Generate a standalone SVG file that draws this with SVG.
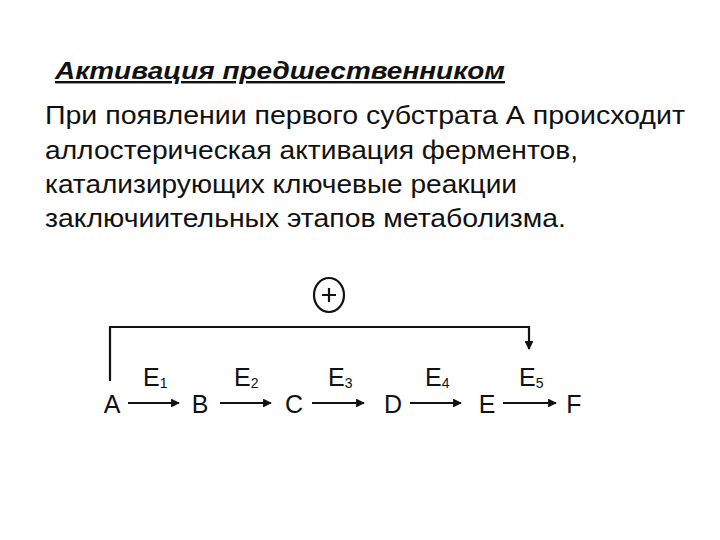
<svg xmlns="http://www.w3.org/2000/svg" width="720" height="540" viewBox="0 0 720 540">
<defs>
<style>
.t{font-family:"Liberation Sans",Arial,sans-serif;fill:#111;}
.body{font-size:26px;}
.head{font-size:24px;font-weight:bold;font-style:italic;text-decoration:underline;}
.lbl{font-size:25px;}
.sub{font-size:14px;}
.ln{stroke:#111;stroke-width:2.2;fill:none;}
</style>
<marker id="ah" viewBox="0 0 10 10" refX="9" refY="5" markerWidth="4" markerHeight="4" orient="auto" markerUnits="strokeWidth">
<path d="M0,0 L10,5 L0,10 z" fill="#111"/>
</marker>
</defs>
<rect width="720" height="540" fill="#fff"/>
<g id="title">
<text class="t head" x="55" y="79" textLength="450" lengthAdjust="spacingAndGlyphs">Активация предшественником</text>
</g>
<g id="description">
<text class="t body" x="45" y="124" textLength="640" lengthAdjust="spacingAndGlyphs">При появлении первого субстрата А происходит</text>
<text class="t body" x="45" y="159" textLength="533" lengthAdjust="spacingAndGlyphs">аллостерическая активация ферментов,</text>
<text class="t body" x="45" y="193" textLength="472" lengthAdjust="spacingAndGlyphs">катализирующих ключевые реакции</text>
<text class="t body" x="45" y="227" textLength="521" lengthAdjust="spacingAndGlyphs">заключиительных этапов метаболизма.</text>
</g>
<g id="plus">
<ellipse cx="329" cy="295" rx="15" ry="17" class="ln" stroke-width="2"/>
<path class="ln" d="M322,295 H336 M329,288 V302" stroke-width="2.4"/>
</g>
<g id="nodeA"><text class="t lbl" x="112" y="413" text-anchor="middle">A</text></g>
<g id="nodeB"><text class="t lbl" x="200" y="413" text-anchor="middle">B</text></g>
<g id="nodeC"><text class="t lbl" x="294" y="413" text-anchor="middle">C</text></g>
<g id="nodeD"><text class="t lbl" x="393" y="413" text-anchor="middle">D</text></g>
<g id="nodeE"><text class="t lbl" x="487" y="413" text-anchor="middle">E</text></g>
<g id="nodeF"><text class="t lbl" x="574" y="413" text-anchor="middle">F</text></g>
<g id="connectors">
<path class="ln" d="M110,381 V327 H529 V349" marker-end="url(#ah)"/>
<path class="ln" d="M128,403 H179" marker-end="url(#ah)"/>
<path class="ln" d="M220,403 H271" marker-end="url(#ah)"/>
<path class="ln" d="M312,403 H364" marker-end="url(#ah)"/>
<path class="ln" d="M410,403 H461" marker-end="url(#ah)"/>
<path class="ln" d="M503,403 H556" marker-end="url(#ah)"/>
</g>
<g id="enzymes">
<text class="t lbl" x="143" y="386">E<tspan class="sub" dy="2">1</tspan></text>
<text class="t lbl" x="234" y="386">E<tspan class="sub" dy="2">2</tspan></text>
<text class="t lbl" x="328" y="386">E<tspan class="sub" dy="2">3</tspan></text>
<text class="t lbl" x="425" y="386">E<tspan class="sub" dy="2">4</tspan></text>
<text class="t lbl" x="519" y="386">E<tspan class="sub" dy="2">5</tspan></text>
</g>
</svg>
